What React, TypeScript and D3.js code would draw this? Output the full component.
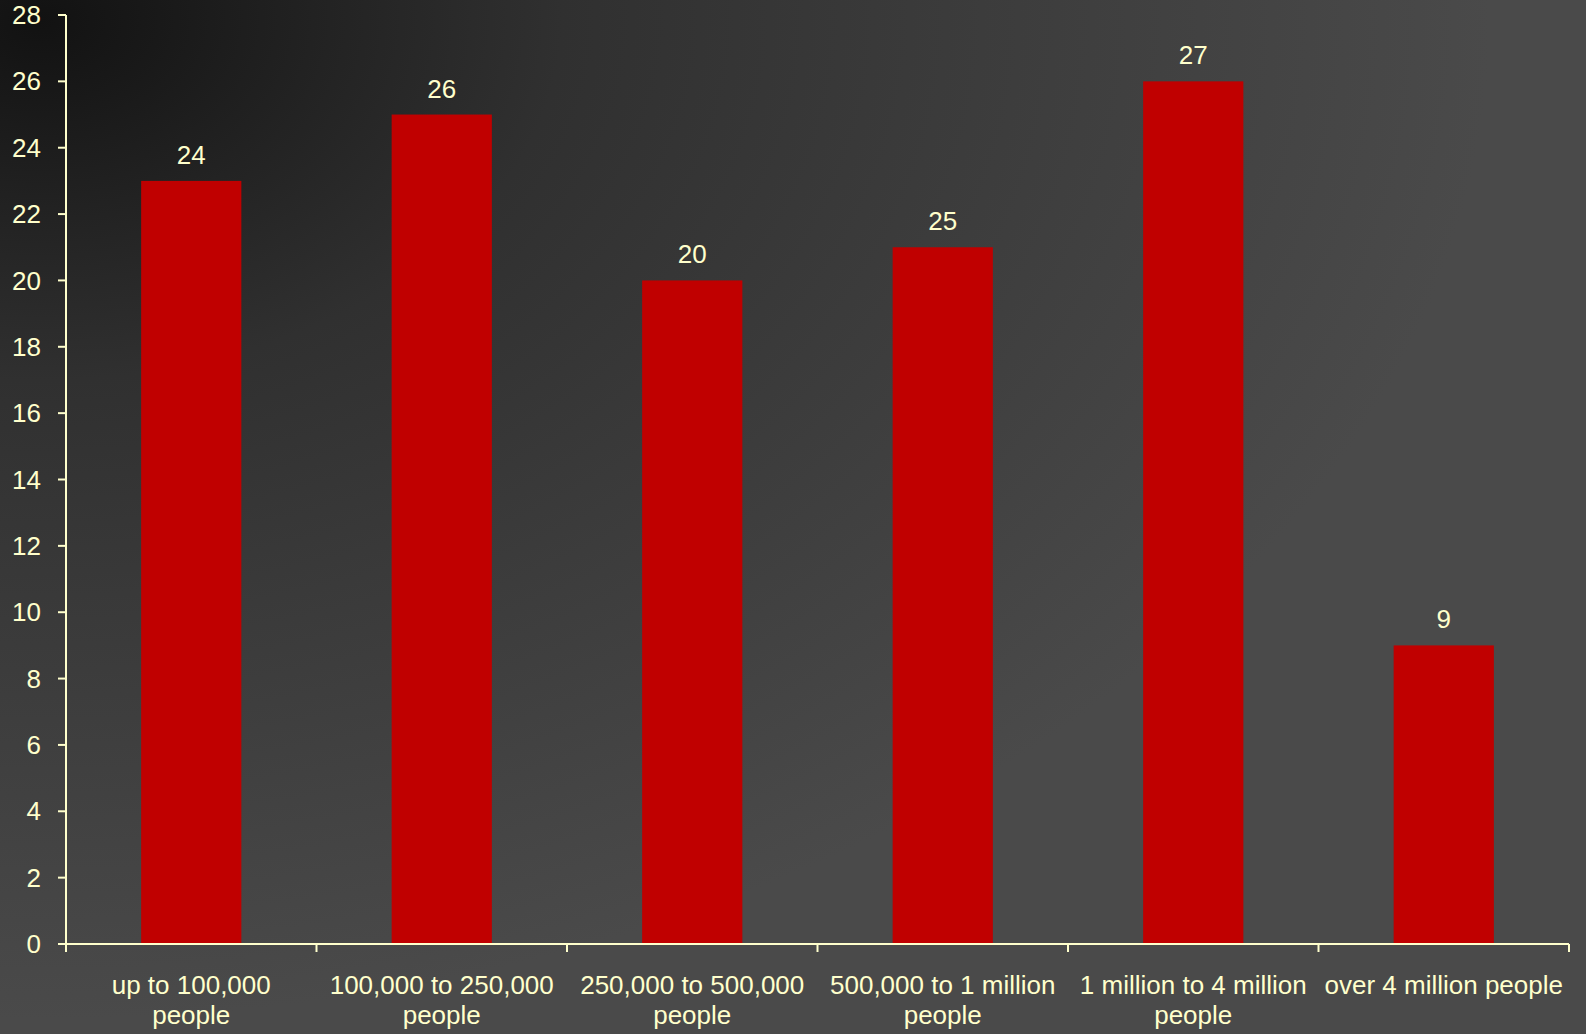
import React from "react";
import * as d3 from "d3";

const categories: string[][] = [
  ["up to 100,000", "people"],
  ["100,000 to 250,000", "people"],
  ["250,000 to 500,000", "people"],
  ["500,000 to 1 million", "people"],
  ["1 million to 4 million", "people"],
  ["over 4 million people"],
];
const barValues: number[] = [23, 25, 20, 21, 26, 9];
const valueLabels: string[] = ["24", "26", "20", "25", "27", "9"];
const yTicks: number[] = d3.range(0, 29, 2);

const W = 1586;
const H = 1034;
const margin = { left: 66, right: 17, top: 15, bottom: 90 };
const textColor = "#ffffcc";
const font = "'Liberation Sans', Arial, sans-serif";
const fs = 26;

export default function App() {
  const x = d3
    .scaleBand<number>()
    .domain(d3.range(categories.length))
    .range([margin.left, W - margin.right])
    .paddingInner(0.6)
    .paddingOuter(0.3);
  const step = x.step();
  const x0 = margin.left;
  const y = d3.scaleLinear().domain([0, 28]).range([H - margin.bottom, margin.top]);
  const y0 = y(0);
  const boundaries = d3.range(categories.length + 1).map((i) => x0 + i * step);

  return (
    <svg
      width={W}
      height={H}
      style={{ position: "absolute", left: 0, top: 0, display: "block" }}
      fontFamily={font}
    >
      <defs>
        <radialGradient
          id="bg"
          gradientUnits="userSpaceOnUse"
          cx={0}
          cy={0}
          r={1000}
          gradientTransform="translate(40,20) scale(1.45,1)"
        >
          <stop offset="0" stopColor="#121212" />
          <stop offset="0.2" stopColor="#232323" />
          <stop offset="0.36" stopColor="#303030" />
          <stop offset="0.6" stopColor="#3a3a3a" />
          <stop offset="0.8" stopColor="#424242" />
          <stop offset="0.95" stopColor="#484848" />
          <stop offset="1" stopColor="#4a4a4a" />
        </radialGradient>
      </defs>
      <rect x={0} y={0} width={W} height={H} fill="url(#bg)" />

      {barValues.map((v, i) => (
        <rect
          key={i}
          x={x(i)!}
          y={y(v)}
          width={x.bandwidth()}
          height={y0 - y(v)}
          fill="#c00000"
        />
      ))}

      {barValues.map((v, i) => (
        <text
          key={i}
          x={x(i)! + x.bandwidth() / 2}
          y={y(v) - 17}
          fill={textColor}
          fontSize={fs}
          textAnchor="middle"
        >
          {valueLabels[i]}
        </text>
      ))}

      {/* Y axis */}
      <line x1={x0} x2={x0} y1={y(28)} y2={y0} stroke={textColor} strokeWidth={2} />
      {yTicks.map((t) => (
        <g key={t}>
          <line x1={x0 - 8} x2={x0} y1={y(t)} y2={y(t)} stroke={textColor} strokeWidth={2} />
          <text
            x={x0 - 25}
            y={y(t)}
            dy="0.35em"
            fill={textColor}
            fontSize={fs}
            textAnchor="end"
          >
            {t}
          </text>
        </g>
      ))}

      {/* X axis */}
      <line x1={x0} x2={W - margin.right} y1={y0} y2={y0} stroke={textColor} strokeWidth={2} />
      {boundaries.map((b, i) => (
        <line key={i} x1={b} x2={b} y1={y0} y2={y0 + 8} stroke={textColor} strokeWidth={2} />
      ))}
      {categories.map((lines, i) => (
        <text
          key={i}
          x={x(i)! + x.bandwidth() / 2}
          y={y0 + 50}
          fill={textColor}
          fontSize={fs}
          textAnchor="middle"
        >
          {lines.map((l, j) => (
            <tspan key={j} x={x(i)! + x.bandwidth() / 2} dy={j === 0 ? 0 : 29.5}>
              {l}
            </tspan>
          ))}
        </text>
      ))}
    </svg>
  );
}
